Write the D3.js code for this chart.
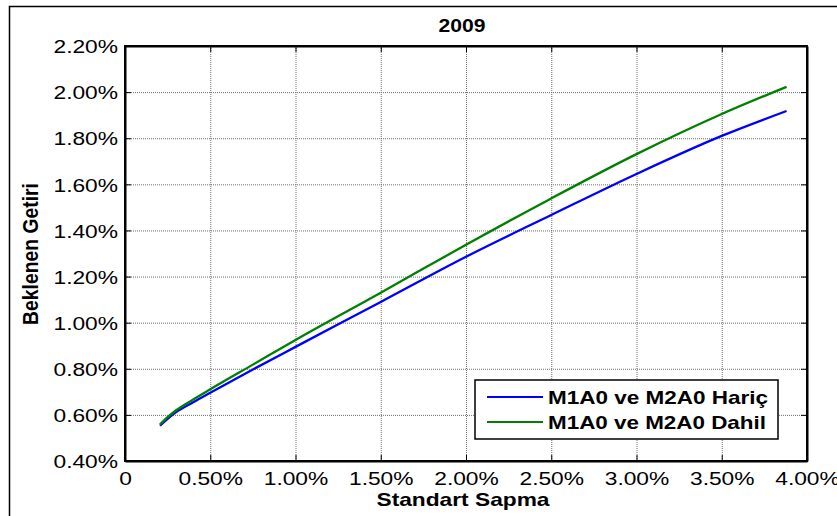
<!DOCTYPE html>
<html>
<head>
<meta charset="utf-8">
<script src="https://cdn.jsdelivr.net/npm/d3@7"></script>
<style>
  html, body { margin: 0; padding: 0; background: #fff; }
  svg { display: block; font-family: "Liberation Sans", Arial, sans-serif; }
</style>
</head>
<body>
<svg id="chart" width="837" height="516"></svg>
<script>
// values, in percent
const stdDev = [0.205, 0.25, 0.3, 0.4, 0.5, 0.75, 1.0, 1.5, 2.0, 2.5, 3.0, 3.5, 3.88];
const excluded = [0.553, 0.583, 0.612, 0.655, 0.696, 0.797, 0.895, 1.09, 1.286, 1.467, 1.645, 1.81, 1.918];
const included = [0.558, 0.59, 0.62, 0.667, 0.711, 0.818, 0.925, 1.13, 1.338, 1.539, 1.731, 1.905, 2.023];
const seriesNames = ['M1A0 ve M2A0 Hariç', 'M1A0 ve M2A0 Dahil'];
const xTicks = [0, 0.5, 1, 1.5, 2, 2.5, 3, 3.5, 4];
const yTicks = [0.4, 0.6, 0.8, 1.0, 1.2, 1.4, 1.6, 1.8, 2.0, 2.2];

const margin = { left: 125, top: 46, right: 30, bottom: 55 };
const width = 837 - margin.left - margin.right;   // 682
const height = 516 - margin.top - margin.bottom;  // 415

const svg = d3.select('#chart');

// outer figure frame (runs past the window edge)
svg.append('rect')
  .attr('x', 9.5).attr('y', 6.5)
  .attr('width', 900).attr('height', 600)
  .attr('fill', 'none').attr('stroke', '#000').attr('stroke-width', 1.5);

const x = d3.scaleLinear().domain([0, 4]).range([0, width]);
const y = d3.scaleLinear().domain([0.4, 2.2]).range([height, 0]);

const g = svg.append('g').attr('transform', `translate(${margin.left},${margin.top})`);

g.append('rect').attr('width', width).attr('height', height).attr('fill', '#fff');

// grid
g.append('g')
  .attr('transform', `translate(0,${height})`)
  .call(d3.axisBottom(x).tickValues(xTicks).tickSize(-height).tickFormat(''))
  .call(a => a.select('.domain').remove());
g.append('g')
  .call(d3.axisLeft(y).tickValues(yTicks).tickSize(-width).tickFormat(''))
  .call(a => a.select('.domain').remove());
g.selectAll('.tick line')
  .attr('stroke', '#6e6e6e')
  .attr('stroke-dasharray', '1,1');

// lines
const line = d3.line()
  .x((d, i) => x(stdDev[i]))
  .y(d => y(d))
  .curve(d3.curveMonotoneX);

const colors = ['#0000ff', '#008000'];
[excluded, included].forEach((s, k) => {
  g.append('path')
    .datum(s)
    .attr('fill', 'none')
    .attr('stroke', colors[k])
    .attr('stroke-width', 2.3)
    .attr('d', line);
});

// axes, ticks pointing inward on all four sides
const fmtX = d => d === 0 ? '0' : d3.format('.2f')(d) + '%';
const fmtY = d => d3.format('.2f')(d) + '%';

const xAxis = g.append('g')
  .attr('transform', `translate(0,${height})`)
  .call(d3.axisBottom(x).tickValues(xTicks).tickSizeInner(-6).tickSizeOuter(0).tickPadding(11).tickFormat(fmtX));
const yAxis = g.append('g')
  .call(d3.axisLeft(y).tickValues(yTicks).tickSizeInner(-6).tickSizeOuter(0).tickPadding(7).tickFormat(fmtY));
g.append('g')
  .call(d3.axisTop(x).tickValues(xTicks).tickSizeInner(-6).tickSizeOuter(0).tickFormat(''));
g.append('g')
  .attr('transform', `translate(${width},0)`)
  .call(d3.axisRight(y).tickValues(yTicks).tickSizeInner(-6).tickSizeOuter(0).tickFormat(''));

g.selectAll('.domain').attr('stroke', '#000').attr('stroke-width', 2);
[xAxis, yAxis].forEach(a => {
  a.selectAll('text')
    .attr('font-size', 18.5)
    .attr('font-family', '"Liberation Sans", Arial, sans-serif')
    .attr('fill', '#000');
});
yAxis.selectAll('text').attr('dy', '0.36em');

// the reference text is drawn a bit wide
function stretch(sel, k) {
  sel.each(function () {
    const w = this.getComputedTextLength();
    d3.select(this).attr('textLength', w * k).attr('lengthAdjust', 'spacingAndGlyphs');
  });
}
stretch(xAxis.selectAll('text'), 1.23);
stretch(yAxis.selectAll('text'), 1.23);

// box
g.append('rect')
  .attr('width', width).attr('height', height)
  .attr('fill', 'none').attr('stroke', '#000').attr('stroke-width', 2);

// title and axis labels
svg.append('text')
  .attr('x', 462).attr('y', 31.5)
  .attr('text-anchor', 'middle')
  .attr('font-size', 18.5).attr('font-weight', 'bold')
  .attr('textLength', 47).attr('lengthAdjust', 'spacingAndGlyphs')
  .text('2009');

svg.append('text')
  .attr('x', 463).attr('y', 506)
  .attr('text-anchor', 'middle')
  .attr('font-size', 18.5).attr('font-weight', 'bold')
  .attr('textLength', 173).attr('lengthAdjust', 'spacingAndGlyphs')
  .text('Standart Sapma');

svg.append('text')
  .attr('transform', 'translate(38,254) scale(1.2,1) rotate(-90)')
  .attr('text-anchor', 'middle')
  .attr('font-size', 18.5).attr('font-weight', 'bold')
  .attr('textLength', 142).attr('lengthAdjust', 'spacingAndGlyphs')
  .text('Beklenen Getiri');

// legend
const legendWidths = [220, 218];
const legend = svg.append('g').attr('transform', 'translate(475,380)');
legend.append('rect')
  .attr('width', 303).attr('height', 59)
  .attr('fill', '#fff').attr('stroke', '#000').attr('stroke-width', 1.5);
seriesNames.forEach((name, k) => {
  const yy = 17 + k * 25;
  legend.append('line')
    .attr('x1', 12).attr('x2', 68)
    .attr('y1', yy).attr('y2', yy)
    .attr('stroke', colors[k]).attr('stroke-width', 2);
  legend.append('text')
    .attr('x', 73).attr('y', yy + 6.5)
    .attr('font-size', 18.5).attr('font-weight', 'bold')
    .attr('textLength', legendWidths[k]).attr('lengthAdjust', 'spacingAndGlyphs')
    .text(name);
});
</script>
</body>
</html>
